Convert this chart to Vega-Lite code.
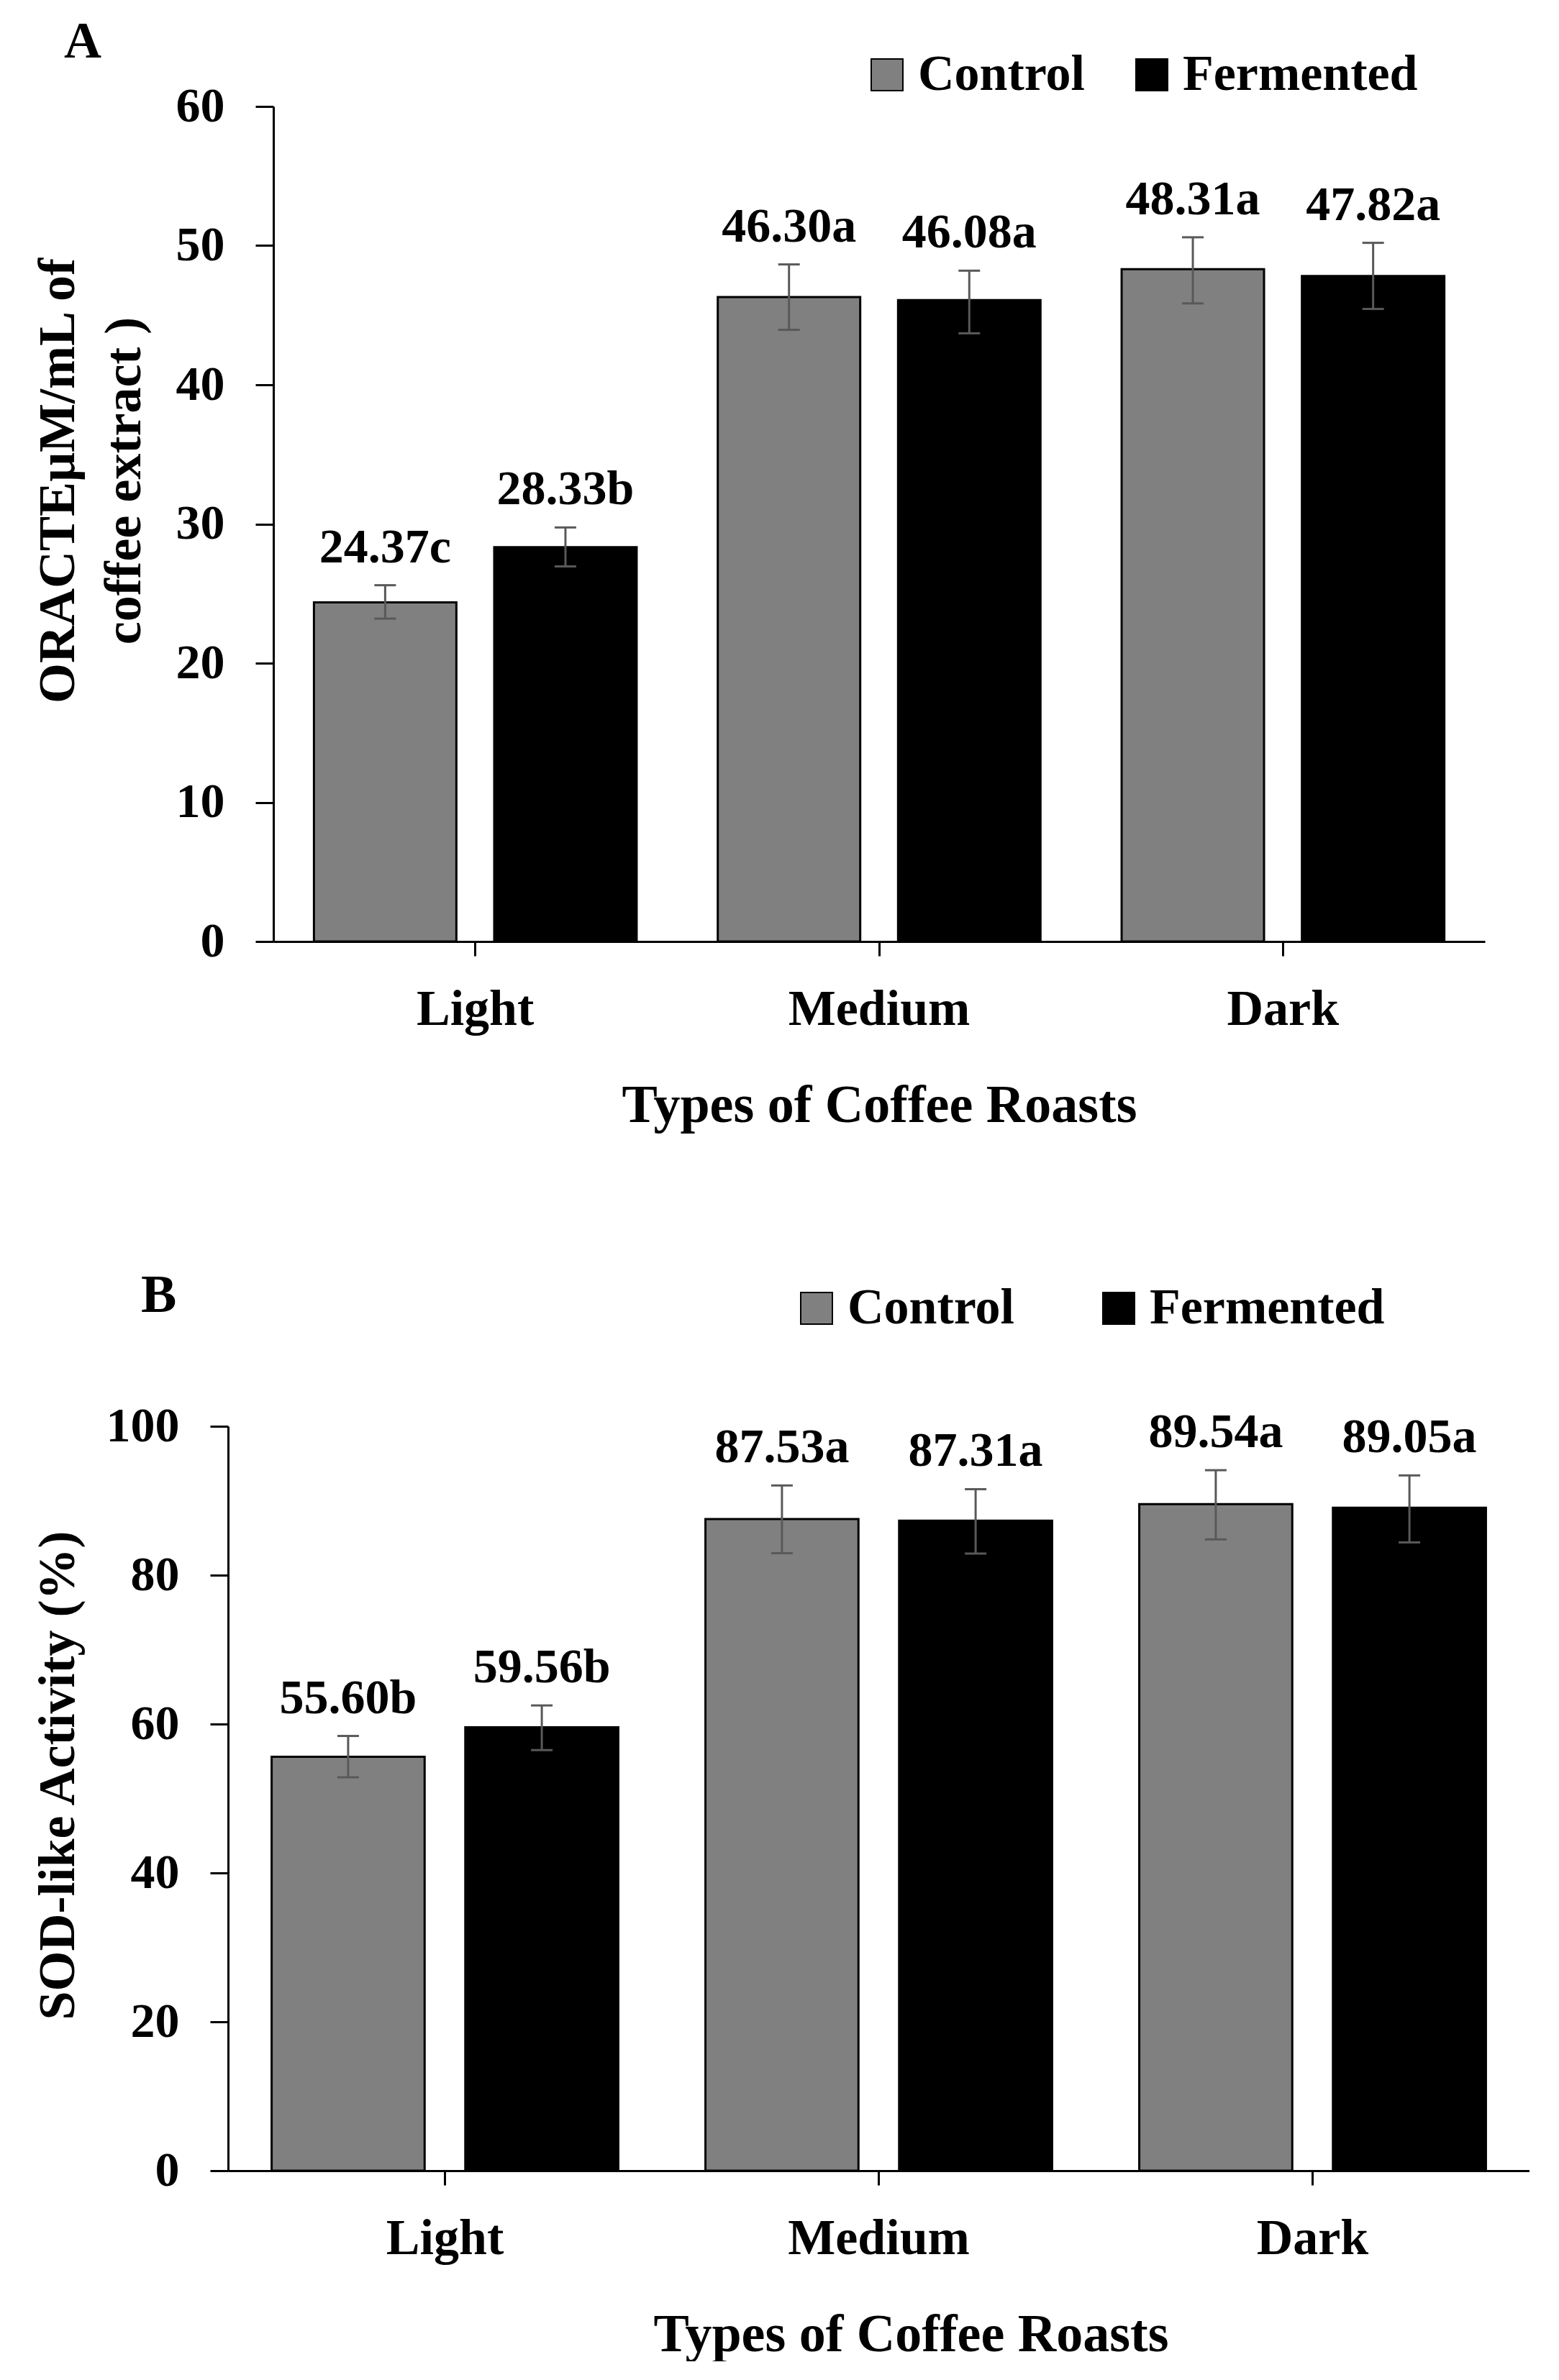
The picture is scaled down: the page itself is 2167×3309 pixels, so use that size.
{
  "$schema": "https://vega.github.io/schema/vega-lite/v6.json",
  "background": "white",
  "padding": {"left": 41, "top": 22, "right": 0, "bottom": 0},
  "autosize": {"type": "pad"},
  "config": {
    "view": {"stroke": null},
    "font": "Liberation Serif",
    "axis": {"labelFont": "Liberation Serif", "titleFont": "Liberation Serif", "labelFontWeight": "bold", "titleFontWeight": "bold", "labelColor": "black", "titleColor": "black", "domainColor": "black", "tickColor": "black", "domainWidth": 3, "tickWidth": 3, "grid": false, "labelLimit": 0},
    "axisX": {"labelAngle": 0, "labelFontSize": 70, "tickSize": 20, "labelPadding": 40, "titleFontSize": 74, "titlePadding": 63},
    "axisY": {"labelFontSize": 68, "tickSize": 25, "labelPadding": 43, "titleFontSize": 72, "titleBaseline": "alphabetic", "titleLineHeight": 92},
    "legend": {"orient": "none", "direction": "horizontal", "title": null, "symbolType": "square", "symbolSize": 1936, "symbolStrokeColor": "black", "symbolStrokeWidth": 2, "labelFont": "Liberation Serif", "labelFontSize": 70, "labelFontWeight": "bold", "labelColor": "black", "labelOffset": 8, "symbolOpacity": 1, "labelLimit": 0},
    "title": {"font": "Liberation Serif", "fontSize": 72, "fontWeight": "bold", "color": "black", "anchor": "start", "frame": "group"}
  },
  "datasets": {
    "oracte": [
      {"roast": "Light", "group": "Control", "value": 24.37, "lo": 23.2, "hi": 25.6, "label": "24.37c"},
      {"roast": "Light", "group": "Fermented", "value": 28.33, "lo": 26.95, "hi": 29.75, "label": "28.33b"},
      {"roast": "Medium", "group": "Control", "value": 46.30, "lo": 43.95, "hi": 48.65, "label": "46.30a"},
      {"roast": "Medium", "group": "Fermented", "value": 46.08, "lo": 43.7, "hi": 48.2, "label": "46.08a"},
      {"roast": "Dark", "group": "Control", "value": 48.31, "lo": 45.85, "hi": 50.6, "label": "48.31a"},
      {"roast": "Dark", "group": "Fermented", "value": 47.82, "lo": 45.45, "hi": 50.2, "label": "47.82a"}
    ],
    "sod": [
      {"roast": "Light", "group": "Control", "value": 55.60, "lo": 52.85, "hi": 58.4, "label": "55.60b"},
      {"roast": "Light", "group": "Fermented", "value": 59.56, "lo": 56.5, "hi": 62.5, "label": "59.56b"},
      {"roast": "Medium", "group": "Control", "value": 87.53, "lo": 82.95, "hi": 92.05, "label": "87.53a"},
      {"roast": "Medium", "group": "Fermented", "value": 87.31, "lo": 82.9, "hi": 91.55, "label": "87.31a"},
      {"roast": "Dark", "group": "Control", "value": 89.54, "lo": 84.8, "hi": 94.1, "label": "89.54a"},
      {"roast": "Dark", "group": "Fermented", "value": 89.05, "lo": 84.4, "hi": 93.4, "label": "89.05a"}
    ],
    "spacer": [{"s": 0}]
  },
  "spacing": 191,
  "resolve": {"scale": {"color": "independent", "x": "independent", "y": "independent", "xOffset": "independent"}, "legend": {"color": "independent"}},
  "vconcat": [
    {
      "spacing": 0,
      "hconcat": [
        {"width": 1, "height": 1, "data": {"name": "spacer"}, "mark": {"type": "rule", "opacity": 0}, "encoding": {}},
        {
          "width": 1684,
          "height": 1161,
          "title": {"text": "A", "dx": -291, "dy": -15},
          "data": {"name": "oracte"},
          "encoding": {
            "x": {"field": "roast", "type": "nominal", "sort": ["Light", "Medium", "Dark"], "scale": {"paddingInner": 0, "paddingOuter": 0}, "axis": {"title": "Types of Coffee Roasts"}},
            "xOffset": {"field": "group", "type": "nominal", "sort": ["Control", "Fermented"], "scale": {"paddingInner": 0.21, "paddingOuter": 0.225}}
          },
          "layer": [
            {
              "mark": {"type": "bar", "stroke": "black", "strokeWidth": 3},
              "encoding": {
                "y": {"field": "value", "type": "quantitative", "title": ["ORACTEμM/mL of", "coffee extract )"], "scale": {"domain": [0, 60], "nice": false}, "axis": {"values": [0, 10, 20, 30, 40, 50, 60], "titleX": -278, "titleY": 520}},
                "color": {"field": "group", "type": "nominal", "scale": {"domain": ["Control", "Fermented"], "range": ["#808080", "#000000"]}, "legend": {"legendX": 1156, "legendY": -79, "columnPadding": 57}}
              }
            },
            {
              "mark": {"type": "rule", "color": "#595959", "strokeWidth": 3},
              "encoding": {"y": {"field": "lo", "type": "quantitative", "title": ["ORACTEμM/mL of", "coffee extract )"]}, "y2": {"field": "hi"}}
            },
            {
              "mark": {"type": "tick", "color": "#595959", "size": 30, "thickness": 3, "opacity": 1},
              "encoding": {"y": {"field": "lo", "type": "quantitative", "title": ["ORACTEμM/mL of", "coffee extract )"]}}
            },
            {
              "mark": {"type": "tick", "color": "#595959", "size": 30, "thickness": 3, "opacity": 1},
              "encoding": {"y": {"field": "hi", "type": "quantitative", "title": ["ORACTEμM/mL of", "coffee extract )"]}}
            },
            {
              "mark": {"type": "text", "dy": -32, "baseline": "alphabetic", "fontSize": 68, "fontWeight": "bold", "font": "Liberation Serif", "color": "black"},
              "encoding": {"y": {"field": "hi", "type": "quantitative", "title": ["ORACTEμM/mL of", "coffee extract )"]}, "text": {"field": "label"}}
            }
          ]
        }
      ]
    },
    {
      "spacing": 0,
      "hconcat": [
        {"width": 1, "height": 1, "data": {"name": "spacer"}, "mark": {"type": "rule", "opacity": 0}, "encoding": {}},
        {
          "width": 1809,
          "height": 1035,
          "title": {"text": "B", "dx": -121, "dy": -105, "fontSize": 74},
          "data": {"name": "sod"},
          "encoding": {
            "x": {"field": "roast", "type": "nominal", "sort": ["Light", "Medium", "Dark"], "scale": {"paddingInner": 0, "paddingOuter": 0}, "axis": {"title": "Types of Coffee Roasts", "titleX": 949}},
            "xOffset": {"field": "group", "type": "nominal", "sort": ["Control", "Fermented"], "scale": {"paddingInner": 0.21, "paddingOuter": 0.225}}
          },
          "layer": [
            {
              "mark": {"type": "bar", "stroke": "black", "strokeWidth": 3},
              "encoding": {
                "y": {"field": "value", "type": "quantitative", "title": "SOD-like Activity (%)", "scale": {"domain": [0, 100], "nice": false}, "axis": {"values": [0, 20, 40, 60, 80, 100], "titleX": -215, "titleY": 485}},
                "color": {"field": "group", "type": "nominal", "scale": {"domain": ["Control", "Fermented"], "range": ["#808080", "#000000"]}, "legend": {"legendX": 1058, "legendY": -199, "columnPadding": 109}}
              }
            },
            {
              "mark": {"type": "rule", "color": "#595959", "strokeWidth": 3},
              "encoding": {"y": {"field": "lo", "type": "quantitative", "title": "SOD-like Activity (%)"}, "y2": {"field": "hi"}}
            },
            {
              "mark": {"type": "tick", "color": "#595959", "size": 30, "thickness": 3, "opacity": 1},
              "encoding": {"y": {"field": "lo", "type": "quantitative", "title": "SOD-like Activity (%)"}}
            },
            {
              "mark": {"type": "tick", "color": "#595959", "size": 30, "thickness": 3, "opacity": 1},
              "encoding": {"y": {"field": "hi", "type": "quantitative", "title": "SOD-like Activity (%)"}}
            },
            {
              "mark": {"type": "text", "dy": -32, "baseline": "alphabetic", "fontSize": 68, "fontWeight": "bold", "font": "Liberation Serif", "color": "black"},
              "encoding": {"y": {"field": "hi", "type": "quantitative", "title": "SOD-like Activity (%)"}, "text": {"field": "label"}}
            }
          ]
        }
      ]
    }
  ]
}
